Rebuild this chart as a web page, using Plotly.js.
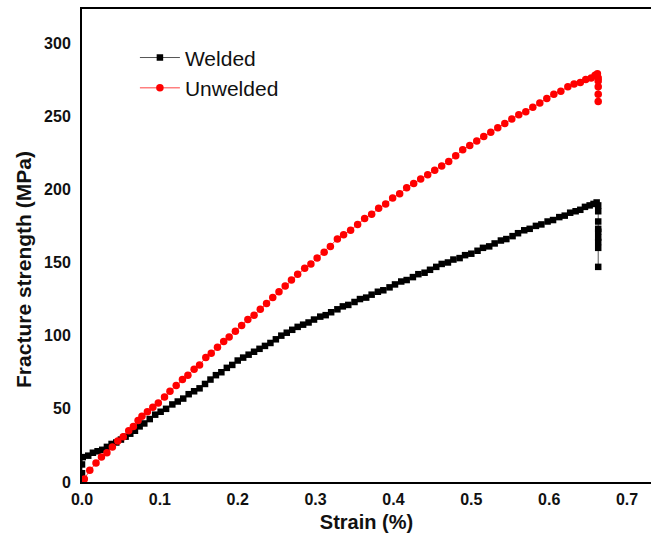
<!DOCTYPE html>
<html>
<head>
<meta charset="utf-8">
<script src="https://cdn.plot.ly/plotly-3.0.1.min.js"></script>
<style>
  html, body { margin: 0; padding: 0; background: #fff; }
  #chart { width: 651px; height: 540px; }
</style>
</head>
<body>
<div id="chart"></div>
<script>
// Tensile test: fracture strength vs. strain for welded and unwelded specimens
const welded_strain = [
  0.000, 0.000, 0.000, 0.001, 0.008, 0.014, 0.020, 0.026, 0.032, 0.038,
  0.044, 0.050, 0.056, 0.062, 0.068, 0.074, 0.080, 0.087, 0.094, 0.101,
  0.108, 0.116, 0.123, 0.130, 0.137, 0.144, 0.151, 0.158, 0.165, 0.172,
  0.179, 0.186, 0.193, 0.200, 0.207, 0.214, 0.221, 0.228, 0.235, 0.242,
  0.249, 0.256, 0.263, 0.270, 0.277, 0.284, 0.291, 0.298, 0.306, 0.313,
  0.320, 0.328, 0.335, 0.342, 0.350, 0.357, 0.365, 0.372, 0.380, 0.387,
  0.395, 0.402, 0.410, 0.417, 0.425, 0.432, 0.440, 0.447, 0.455, 0.462,
  0.470, 0.477, 0.485, 0.492, 0.500, 0.508, 0.515, 0.523, 0.530, 0.538,
  0.545, 0.553, 0.560, 0.568, 0.575, 0.583, 0.590, 0.598, 0.605, 0.613,
  0.620, 0.627, 0.634, 0.640, 0.646, 0.652, 0.657, 0.661,
  0.663, 0.663, 0.663, 0.663, 0.663, 0.663, 0.663, 0.663, 0.663
];
const welded_stress = [
  0, 6, 12, 17, 18, 20, 21, 22, 24, 26,
  27, 29, 31, 33, 35, 38, 40, 43, 46, 48,
  50, 53, 55, 57, 60, 62, 64, 67, 70, 73,
  75, 78, 80, 83, 85, 87, 89, 91, 93, 95,
  97.5, 100, 102, 104, 106, 107.5, 109, 111, 113, 114,
  116, 118, 120, 121, 123, 125, 126, 128, 130, 131,
  133, 135, 137, 138, 140, 142, 143, 145, 147, 149,
  150, 152, 153, 155, 156, 158, 160, 161, 163, 165,
  166, 168, 170, 172, 173, 175, 176, 178, 179, 181,
  182, 184, 185, 186, 188, 189, 190, 191,
  189, 185, 178, 173, 171, 167, 164, 160, 147
];

const unwelded_strain = [
  0.000, 0.003, 0.010, 0.018, 0.025, 0.032, 0.039, 0.046, 0.053, 0.060,
  0.066, 0.072, 0.077, 0.084, 0.091, 0.098, 0.106, 0.113, 0.121, 0.129,
  0.136, 0.144, 0.151, 0.159, 0.166, 0.174, 0.182, 0.189, 0.197, 0.205,
  0.213, 0.221, 0.229, 0.237, 0.245, 0.253, 0.261, 0.269, 0.277, 0.286,
  0.294, 0.302, 0.311, 0.319, 0.328, 0.336, 0.345, 0.354, 0.363, 0.372,
  0.381, 0.390, 0.399, 0.408, 0.417, 0.426, 0.435, 0.444, 0.453, 0.462,
  0.471, 0.480, 0.489, 0.498, 0.507, 0.516, 0.525, 0.534, 0.543, 0.552,
  0.561, 0.570, 0.579, 0.588, 0.597, 0.606, 0.615, 0.624, 0.632, 0.640,
  0.647, 0.654, 0.659, 0.662,
  0.663, 0.663, 0.663, 0.663, 0.663
];
const unwelded_stress = [
  0, 2, 8, 13, 17, 20, 24, 28, 31, 35,
  38, 42, 45, 48, 51, 54, 58, 62, 66, 70,
  73, 77, 80, 85, 88, 92, 96, 99, 103, 107,
  111, 114, 118, 122, 126, 130, 134, 138, 142, 146,
  149, 153, 157, 161, 166, 169, 172, 176, 180, 183,
  187, 190, 194, 197, 201, 204, 207, 210, 213, 216,
  219, 223, 227, 230, 233, 236, 239, 242, 245, 248,
  251, 253, 256, 259, 262, 265, 267, 270, 272, 273,
  275, 276, 278, 279,
  276, 274, 270, 265, 260
];

const xTickVals = [0, 0.1, 0.2, 0.3, 0.4, 0.5, 0.6, 0.7];
const xTickText = ['0.0', '0.1', '0.2', '0.3', '0.4', '0.5', '0.6', '0.7'];
const yTickVals = [0, 50, 100, 150, 200, 250, 300];

const FONT = 'Liberation Sans, Arial, Helvetica, sans-serif';

const traces = [
  {
    name: 'Welded',
    x: welded_strain,
    y: welded_stress,
    type: 'scatter',
    mode: 'lines+markers',
    line: { color: '#555555', width: 1 },
    marker: { symbol: 'square', size: 6.5, color: '#000000' }
  },
  {
    name: 'Unwelded',
    x: unwelded_strain,
    y: unwelded_stress,
    type: 'scatter',
    mode: 'lines+markers',
    line: { color: '#ff4040', width: 1 },
    marker: { symbol: 'circle', size: 7.5, color: '#ff0000' }
  }
];

const layout = {
  width: 651,
  height: 540,
  margin: { l: 82, r: 0, t: 9, b: 58 },
  paper_bgcolor: '#ffffff',
  plot_bgcolor: '#ffffff',
  font: { family: FONT, color: '#000000' },
  showlegend: true,
  legend: {
    x: 0.093, y: 0.94, xanchor: 'left', yanchor: 'top',
    bgcolor: 'rgba(0,0,0,0)',
    font: { family: FONT, size: 21, color: '#111111' },
    itemwidth: 40
  },
  xaxis: {
    range: [0, 0.7308],
    tickvals: xTickVals,
    ticktext: xTickText,
    showgrid: false,
    zeroline: false,
    showline: true,
    mirror: true,
    linecolor: '#000000',
    linewidth: 2,
    ticks: '',
    ticklabelstandoff: 2,
    tickfont: { family: FONT, size: 16, weight: 'bold', color: '#111111' },
    title: {
      text: 'Strain (%)',
      font: { family: FONT, size: 20, weight: 'bold', color: '#111111' },
      standoff: 8
    }
  },
  yaxis: {
    range: [0, 323.2],
    tickvals: yTickVals,
    showgrid: false,
    zeroline: false,
    showline: true,
    linecolor: '#000000',
    linewidth: 2,
    ticks: '',
    ticklabelstandoff: 6,
    tickfont: { family: FONT, size: 16, weight: 'bold', color: '#111111' }
  },
  annotations: [
    {
      text: 'Fracture strength (MPa)',
      xref: 'paper', yref: 'paper',
      x: -0.104, y: 0.45,
      xanchor: 'center', yanchor: 'middle',
      textangle: -90,
      showarrow: false,
      font: { family: FONT, size: 21, weight: 'bold', color: '#111111' }
    }
  ]
};

Plotly.newPlot('chart', traces, layout, { displayModeBar: false, staticPlot: true });
</script>
</body>
</html>
